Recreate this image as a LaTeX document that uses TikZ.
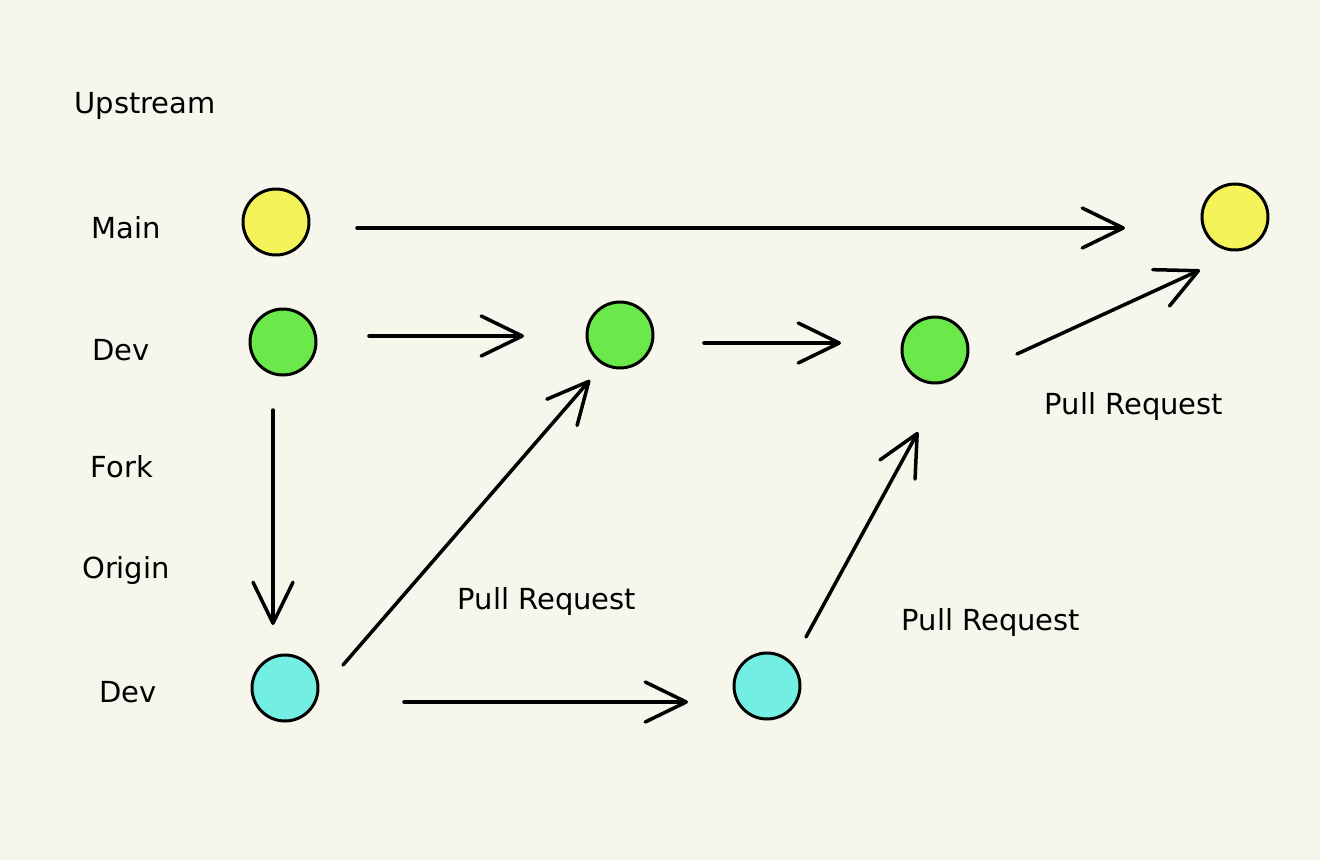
\documentclass[tikz,border=0pt]{standalone}
\usepackage{fontspec}
\setmainfont{DejaVu Sans}
\usepackage{tikz}
\usetikzlibrary{arrows.meta}

\definecolor{paper}{HTML}{F7F6EC}
\definecolor{mainyellow}{HTML}{F5F35A}
\definecolor{devgreen}{HTML}{6BE84A}
\definecolor{origincyan}{HTML}{72EEE2}

\begin{document}
\begin{tikzpicture}[x=0.02cm, y=-0.02cm,
  dot/.style={circle, draw=black, line width=1.7pt, minimum size=1.32cm, inner sep=0pt, outer sep=0pt},
  lbl/.style={font=\fontsize{16.5}{19}\selectfont},
  flow/.style={line width=2pt, line cap=round, -{Straight Barb[length=0.82cm, width=0.8cm, line cap=round, line join=round]}}]
% Background
\fill[paper] (0,0) rectangle (1320,860);
\useasboundingbox (0,0) rectangle (1320,860);

% Row labels
\node[lbl] (upstream) at (145,106) {Upstream};
\node[lbl] (lmain) at (126,228) {Main};
\node[lbl] (ldev) at (121,350) {Dev};
\node[lbl] (lfork) at (122,467) {Fork};
\node[lbl] (lorigin) at (126,570) {Origin};
\node[lbl] (ldevo) at (128,692) {Dev};

% Commits
\node[dot, fill=mainyellow] (m1) at (276,222) {};
\node[dot, fill=mainyellow] (m2) at (1235,217) {};
\node[dot, fill=devgreen] (d1) at (283,342) {};
\node[dot, fill=devgreen] (d2) at (620,335) {};
\node[dot, fill=devgreen] (d3) at (935,350) {};
\node[dot, fill=origincyan] (o1) at (285,688) {};
\node[dot, fill=origincyan] (o2) at (767,686) {};

% Pull request labels
\node[lbl] (pr1) at (547,601) {Pull Request};
\node[lbl] (pr2) at (991,622) {Pull Request};
\node[lbl] (pr3) at (1134,406) {Pull Request};

% Arrows
\draw[flow] ([shift={(81,6)}]m1.center) -- ([shift={(-110,11)}]m2.center);
\draw[flow] ([shift={(86,-6)}]d1.center) -- ([shift={(-96,1)}]d2.center);
\draw[flow] ([shift={(84,8)}]d2.center) -- ([shift={(-94,-7)}]d3.center);
\draw[flow] ([shift={(82,4)}]d3.center) -- ([shift={(-35,53)}]m2.center);
\draw[flow] ([shift={(-10,68)}]d1.center) -- ([shift={(-12,-63)}]o1.center);
\draw[flow] ([shift={(58,-23)}]o1.center) -- ([shift={(-30,45)}]d2.center);
\draw[flow] ([shift={(119,14)}]o1.center) -- ([shift={(-79,16)}]o2.center);
\draw[flow] ([shift={(39,-49)}]o2.center) -- ([shift={(-17,82)}]d3.center);
\end{tikzpicture}
\end{document}
